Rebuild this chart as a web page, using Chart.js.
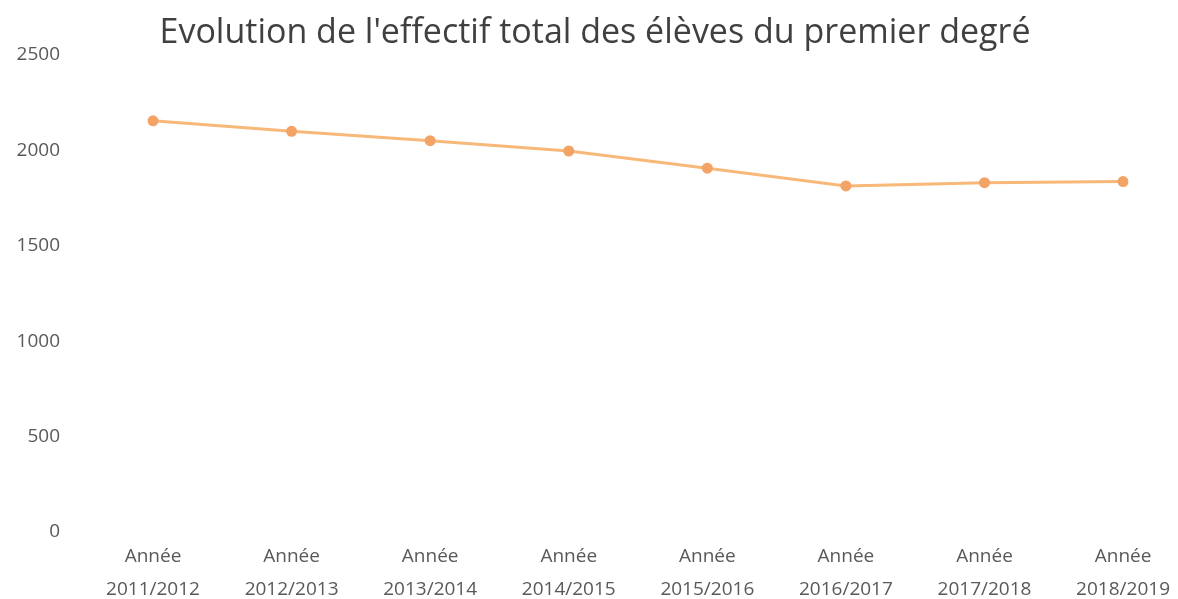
<!DOCTYPE html>
<html>
<head>
<meta charset="utf-8">
<script src="https://cdn.jsdelivr.net/npm/chart.js@4"></script>
<style>
  html, body { margin: 0; padding: 0; background: #fff; overflow: hidden; }
  canvas { display: block; }
</style>
</head>
<body>
<canvas id="chart" width="1178" height="599"></canvas>
<script>
// ------------------ DONNÉES ------------------
const annees = ["2011/2012", "2012/2013", "2013/2014", "2014/2015", "2015/2016", "2016/2017", "2017/2018", "2018/2019"];
const effectifs = [2154, 2099, 2050, 1996, 1906, 1813, 1830, 1836];
const yTicks = [0, 500, 1000, 1500, 2000, 2500];

const titre = "Evolution de l'effectif total des élèves du premier degré";
const police = "'Open Sans', 'DejaVu Sans', sans-serif";

const ctx = document.getElementById("chart").getContext("2d");

new Chart(ctx, {
    type: "line",
    data: {
        labels: annees.map(a => ["Année", a]),
        datasets: [{
            label: "Effectif",
            data: effectifs,
            borderColor: "#F8B879",
            backgroundColor: "#F4A366",
            borderWidth: 3,
            pointRadius: 5.5,
            pointBorderWidth: 0,
            pointBackgroundColor: "#F4A366",
            tension: 0
        }]
    },
    options: {
        responsive: false,
        animation: false,
        layout: { padding: { left: 12, right: 0, top: 13, bottom: 0 } },
        plugins: {
            legend: { display: false },
            tooltip: { enabled: false },
            title: {
                display: true,
                text: titre,
                color: "#404040",
                font: { family: police, size: 34, weight: "normal" },
                padding: { top: 0, bottom: 1 }
            }
        },
        scales: {
            x: {
                offset: false,
                grid: { display: false, drawTicks: false },
                border: { display: false },
                afterFit: axis => { axis.height = 67; },
                ticks: {
                    color: "#595959",
                    font: { family: police, size: 19, lineHeight: 1.74 },
                    padding: 8,
                    maxRotation: 0,
                    autoSkip: false
                }
            },
            y: {
                min: 0,
                max: 2500,
                afterBuildTicks: axis => { axis.ticks = yTicks.map(v => ({ value: v })); },
                afterFit: axis => {
                    // labels écartés de l'axe sans réduire la hauteur
                    axis.width = 141;
                    axis.paddingTop = 0;
                    axis.paddingBottom = 0;
                },
                grid: { display: false, drawTicks: false },
                border: { display: false },
                ticks: {
                    color: "#595959",
                    font: { family: police, size: 19 },
                    padding: 93,
                    callback: v => String(v)
                }
            }
        }
    }
});
</script>
</body>
</html>
